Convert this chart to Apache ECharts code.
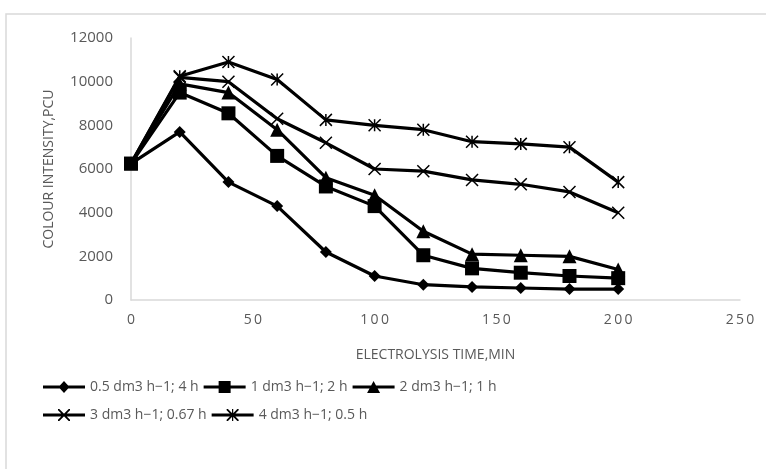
<!DOCTYPE html>
<html>
<head>
<meta charset="utf-8">
<script src="https://cdn.jsdelivr.net/npm/echarts@6/dist/echarts.min.js"></script>
<style>
  html, body { margin: 0; padding: 0; background: #fff; }
  #chart { width: 766px; height: 469px; }
</style>
</head>
<body>
<div id="chart"></div>
<script>
// electrolysis time, min
const times = [0, 20, 40, 60, 80, 100, 120, 140, 160, 180, 200];

const names = [
  '0.5 dm3 h\u22121; 4 h',
  '1 dm3 h\u22121; 2 h',
  '2 dm3 h\u22121; 1 h',
  '3 dm3 h\u22121; 0.67 h',
  '4 dm3 h\u22121; 0.5 h'
];

const flow05 = [6250, 7700, 5400, 4300, 2200, 1100, 700, 600, 550, 500, 500];
const flow1  = [6250, 9500, 8550, 6600, 5200, 4300, 2050, 1450, 1250, 1100, 1000];
const flow2  = [6250, 9900, 9500, 7800, 5600, 4800, 3150, 2100, 2050, 2000, 1400];
const flow3  = [6250, 10200, 10000, 8300, 7200, 6000, 5900, 5500, 5300, 4950, 4000];
const flow4  = [6250, 10250, 10900, 10100, 8250, 8000, 7800, 7250, 7150, 7000, 5400];

const xTicks = { min: 0, max: 250, step: 50 };
const yTicks = { min: 0, max: 12000, step: 2000 };

const chart = echarts.init(document.getElementById('chart'));
const font = "'Open Sans', 'Noto Sans', sans-serif";
const grey = '#595959';

function pairs(vals) {
  return times.map((t, i) => [t, vals[i]]);
}

// marker shapes like the excel ones
const markers = [
  { symbol: 'diamond', size: 12, stroke: false },
  { symbol: 'rect', size: 14, stroke: false },
  { symbol: 'triangle', size: 14, stroke: false },
  { symbol: 'path://M0,0L10,10M10,0L0,10', size: 12, stroke: true },
  { symbol: 'path://M0,0L10,10M10,0L0,10M5,0L5,10', size: 12, stroke: true }
];

// legend icons: thick line + marker, drawn in a 42x12 box (all filled, clockwise)
const bar = 'M0,4.6H42V7.4H0Z';
const xMark = 'M15,0L16.3,0L27,10.7L27,12L25.7,12L15,1.3Z' +
              'M27,0L27,1.3L16.3,12L15,12L15,10.7L25.7,0Z';
const legendIcons = [
  'path://' + bar + 'M21,0L26.5,6L21,12L15.5,6Z',
  'path://' + bar + 'M15,0H27V12H15Z',
  'path://' + bar + 'M21,0L27.5,12L14.5,12Z',
  'path://' + bar + xMark,
  'path://' + bar + xMark + 'M20.4,0H21.6V12H20.4Z'
];

const allData = [flow05, flow1, flow2, flow3, flow4];

const series = allData.map((vals, i) => {
  const m = markers[i];
  return {
    name: names[i],
    type: 'line',
    data: pairs(vals),
    symbol: m.symbol,
    symbolSize: m.size,
    showAllSymbol: true,
    lineStyle: { color: '#000', width: 3.2 },
    itemStyle: m.stroke
      ? { color: '#000', borderColor: '#000', borderWidth: 1.5 }
      : { color: '#000', borderWidth: 0 },
    emphasis: { disabled: true },
    z: 2 + i
  };
});

const legendBase = {
  left: 38,
  itemWidth: 42,
  itemHeight: 12,
  itemGap: 5,
  itemStyle: { color: '#000', borderWidth: 0 },
  textStyle: { color: grey, fontSize: 14, fontFamily: font }
};

function legendItems(from, to) {
  return names.slice(from, to).map((n, k) => ({ name: n, icon: legendIcons[from + k] }));
}

const option = {
  animation: false,
  textStyle: { fontFamily: font },
  graphic: [{
    type: 'rect',
    shape: { x: 6, y: 14, width: 800, height: 500 },
    style: { fill: 'none', stroke: '#d9d9d9', lineWidth: 1.5 },
    silent: true
  }],
  grid: { left: 131, right: 26, top: 38, bottom: 169 },
  xAxis: {
    type: 'value',
    min: xTicks.min, max: xTicks.max, interval: xTicks.step,
    name: 'ELECTROLYSIS TIME,MIN',
    nameLocation: 'middle',
    nameGap: 48,
    nameTextStyle: { color: grey, fontSize: 14, fontFamily: font },
    axisLine: { lineStyle: { color: '#d9d9d9', width: 1.5 } },
    axisTick: { show: false },
    splitLine: { show: false },
    axisLabel: {
      color: grey, fontSize: 14, margin: 13,
      formatter: v => String(v).split('').join('\u2009')
    }
  },
  yAxis: {
    type: 'value',
    min: yTicks.min, max: yTicks.max, interval: yTicks.step,
    name: 'COLOUR INTENSITY,PCU',
    nameLocation: 'middle',
    nameGap: 75,
    nameTextStyle: { color: grey, fontSize: 14, fontFamily: font },
    axisLine: { show: true, lineStyle: { color: '#d9d9d9', width: 1.5 } },
    axisTick: { show: false },
    splitLine: { show: false },
    axisLabel: { color: grey, fontSize: 15, margin: 18, formatter: v => String(v) }
  },
  legend: [
    Object.assign({ top: 375, data: legendItems(0, 3) }, legendBase),
    Object.assign({ top: 403, data: legendItems(3, 5) }, legendBase)
  ],
  series: series
};

chart.setOption(option);
</script>
</body>
</html>
